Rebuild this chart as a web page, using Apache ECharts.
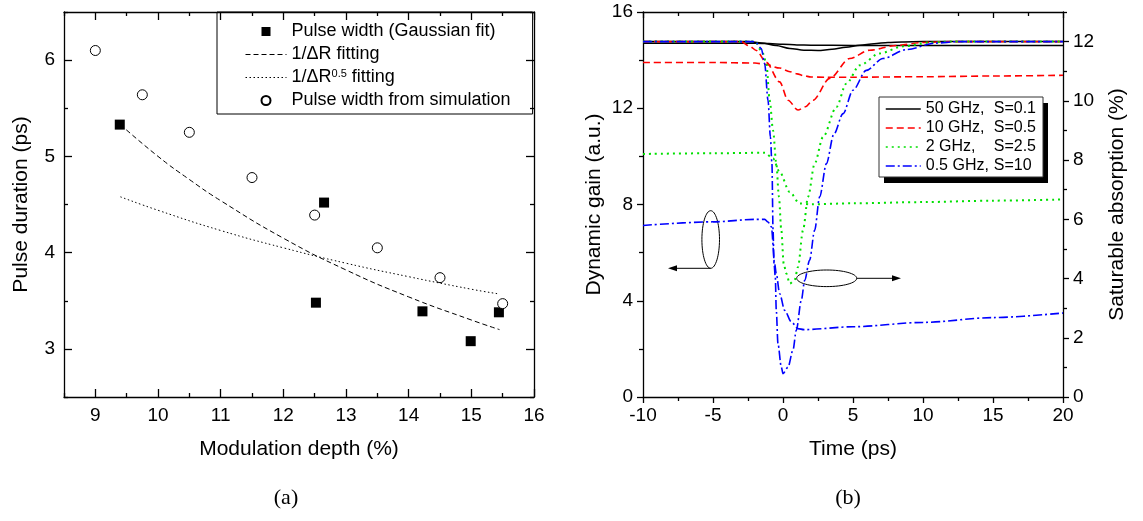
<!DOCTYPE html>
<html>
<head>
<meta charset="utf-8">
<title>Pulse duration and dynamic gain</title>
<script src="https://cdn.jsdelivr.net/npm/echarts@6.0.0/dist/echarts.min.js"></script>
<style>
  html, body { margin: 0; padding: 0; background: #fff; }
  #chart { width: 1143px; height: 521px; }
</style>
</head>
<body>
<div id="chart"></div>
<script>
// ---------- (a) pulse duration vs modulation depth ----------
const gaussFit = [[9.39, 5.33], [12.52, 3.48], [12.65, 4.52], [14.22, 3.39], [14.99, 3.08], [15.44, 3.38]]
const simWidth = [[9.0, 6.10], [9.75, 5.64], [10.5, 5.25], [11.5, 4.78], [12.5, 4.39], [13.5, 4.05], [14.5, 3.74], [15.5, 3.47]]
const fitInvR = [[9.4, 5.33], [10, 5.0], [10.5, 4.76], [11, 4.54], [12, 4.15], [13, 3.82], [14, 3.54], [15, 3.30], [15.45, 3.20]]
const fitInvSqrtR = [[9.4, 4.58], [10, 4.44], [11, 4.23], [12, 4.05], [13, 3.89], [14, 3.75], [15, 3.62], [15.45, 3.57]]

// ---------- (b) dynamic gain (left axis) / saturable absorption (right axis) ----------
const gain50 = [[-10, 14.7], [-2, 14.7], [-1, 14.69], [0, 14.66], [1, 14.63], [2, 14.62], [5, 14.61], [10, 14.61], [20, 14.61]]
const abs50 = [[-10, 12], [-2.5, 12], [-1.5, 11.95], [-0.5, 11.87], [0.5, 11.77], [1.5, 11.71], [2.5, 11.7], [3.5, 11.74],
  [4.5, 11.81], [5.5, 11.88], [6.5, 11.93], [7.5, 11.97], [8.5, 11.99], [10, 12], [20, 12]]
const gain10 = [[-10, 13.9], [-5, 13.9], [-2, 13.88], [-1.2, 13.82], [-0.24, 13.67], [0.5, 13.52], [1, 13.43], [1.5, 13.35],
  [2, 13.3], [3, 13.29], [5, 13.29], [10, 13.31], [15, 13.34], [20, 13.37]]
const abs10 = [[-10, 12], [-3, 12], [-2.4, 11.85], [-1.9, 11.7], [-1.2, 11.3], [-0.24, 10.64], [0.36, 10.02], [1.07, 9.69],
  [1.6, 9.8], [2.14, 10.02], [3.34, 10.76], [4.76, 11.43], [6.19, 11.71], [8.1, 11.87], [10, 11.97], [12, 12], [20, 12]]
const gain2 = [[-10, 10.1], [-5, 10.13], [-1.3, 10.15], [-0.71, 9.91], [-0.24, 9.35], [0.48, 8.52], [1.19, 8.04], [2, 8.01],
  [5, 8.05], [10, 8.1], [15, 8.16], [20, 8.21]]
const abs2 = [[-10, 12], [-2, 12], [-1.43, 11.6], [-1.19, 11.26], [-0.95, 10.02], [-0.71, 9.0], [-0.48, 7.88], [-0.29, 6.76],
  [-0.12, 5.63], [0.05, 4.5], [0.24, 4.17], [0.48, 3.83], [0.83, 3.94], [1.07, 4.39], [1.43, 5.63], [1.79, 6.76], [2.26, 7.88],
  [2.86, 8.78], [3.81, 9.79], [4.52, 10.58], [5.48, 11.2], [6.9, 11.6], [8.57, 11.84], [10.5, 11.97], [12, 12], [20, 12]]
const gain05 = [[-10, 7.13], [-5, 7.28], [-2, 7.38], [-1.3, 7.38], [-1.07, 7.27], [-0.83, 7.07], [-0.6, 5.54], [-0.48, 5.13],
  [-0.24, 4.3], [0.12, 3.6], [0.6, 3.12], [1.07, 2.84], [1.5, 2.8], [5, 2.92], [10, 3.1], [15, 3.3], [20, 3.49]]
const abs05 = [[-10, 12], [-2, 12], [-1.55, 11.77], [-1.31, 11.26], [-1.07, 10.02], [-0.9, 8.78], [-0.79, 7.88], [-0.71, 5.63],
  [-0.64, 4.5], [-0.55, 4.05], [-0.48, 2.93], [-0.36, 1.8], [-0.12, 1.01], [0, 0.79], [0.36, 1.01], [0.71, 1.58], [0.95, 2.25],
  [1.31, 3.27], [1.55, 3.94], [1.9, 4.62], [2.26, 5.63], [2.62, 6.76], [3.1, 7.88], [3.63, 8.87], [4.29, 9.57], [5.0, 10.36],
  [5.95, 11.03], [7.14, 11.43], [8.81, 11.73], [10.9, 11.95], [12.5, 12], [20, 12]]

// tick values
const aXMajor = [9, 10, 11, 12, 13, 14, 15, 16]
const aXMinor = [8.5, 9.5, 10.5, 11.5, 12.5, 13.5, 14.5, 15.5]
const aYMajor = [3, 4, 5, 6]
const aYMinor = [2.5, 3.5, 4.5, 5.5, 6.5]
const bRightMajor = [0, 2, 4, 6, 8, 10, 12]
const bRightMinor = [1, 3, 5, 7, 9, 11, 13]

const FONT = 'Liberation Sans'
const BLACK = '#000'

// one value axis; ticks either from interval or from customValues
function axis(o) {
  return {
    type: 'value',
    gridIndex: o.grid,
    position: o.pos,
    min: o.min,
    max: o.max,
    interval: o.interval,
    axisLine: { show: !!o.line, onZero: false, lineStyle: { color: BLACK, width: 1.3 } },
    axisTick: { show: true, inside: !!o.inside, length: o.len, customValues: o.ticks, lineStyle: { color: BLACK, width: 1.3 } },
    minorTick: { show: !!o.minor, splitNumber: 2, length: o.minorLen, lineStyle: { color: BLACK, width: 1.3 } },
    axisLabel: {
      show: !!o.labels,
      customValues: Array.isArray(o.labels) ? o.labels : undefined,
      margin: o.margin,
      color: BLACK,
      fontFamily: FONT,
      fontSize: 19
    },
    splitLine: { show: false },
    name: o.name,
    nameLocation: 'middle',
    nameGap: o.nameGap,
    nameRotate: o.nameRotate,
    nameTextStyle: { color: BLACK, fontFamily: FONT, fontSize: 21 }
  }
}

function curve(name, data, xi, yi, color, type, width) {
  return {
    name: name,
    type: 'line',
    data: data,
    xAxisIndex: xi,
    yAxisIndex: yi,
    symbol: 'none',
    showSymbol: false,
    smooth: 0.3,
    smoothMonotone: 'x',
    lineStyle: { color: color, type: type, width: width },
    itemStyle: { color: color },
    z: 3
  }
}

const N50 = '50 GHz, S=0.1'
const N10 = '10 GHz, S=0.5'
const N2 = '2 GHz, S=2.5'
const N05 = '0.5 GHz, S=10'
const RED = '#ff0000'
const GREEN = '#00e000'
const BLUE = '#0000ff'
const DASH = [7, 4]
const DOT = [2, 4]
const DASHDOT = [9, 3, 2, 3]
const noSymbol = { opacity: 0 } // hide the dot ECharts puts on line legend icons

const chart = echarts.init(document.getElementById('chart'))
const option = {
  animation: false,
  backgroundColor: '#fff',
  grid: [
    { left: 64, top: 12, width: 470, height: 385 },
    { left: 643, top: 12, width: 420, height: 385 }
  ],
  xAxis: [
    axis({ grid: 0, pos: 'bottom', min: 8.5, max: 16, line: true, inside: true, len: 8, ticks: aXMajor, labels: aXMajor, margin: 9,
      name: 'Modulation depth (%)', nameGap: 42 }),
    axis({ grid: 0, pos: 'bottom', min: 8.5, max: 16, inside: true, len: 4, ticks: aXMinor }),
    axis({ grid: 0, pos: 'top', min: 8.5, max: 16, line: true, inside: true, len: 8, ticks: aXMajor }),
    axis({ grid: 0, pos: 'top', min: 8.5, max: 16, inside: true, len: 4, ticks: aXMinor }),
    axis({ grid: 1, pos: 'bottom', min: -10, max: 20, interval: 5, line: true, len: 6, minor: true, minorLen: 4, labels: true, margin: 9,
      name: 'Time (ps)', nameGap: 42 }),
    axis({ grid: 1, pos: 'top', min: -10, max: 20, interval: 5, line: true, inside: true, len: 6, minor: true, minorLen: 4 })
  ],
  yAxis: [
    axis({ grid: 0, pos: 'left', min: 2.5, max: 6.5, line: true, inside: true, len: 8, ticks: aYMajor, labels: aYMajor, margin: 9,
      name: 'Pulse duration (ps)', nameGap: 32, nameRotate: 90 }),
    axis({ grid: 0, pos: 'left', min: 2.5, max: 6.5, inside: true, len: 4, ticks: aYMinor }),
    axis({ grid: 0, pos: 'right', min: 2.5, max: 6.5, line: true, inside: true, len: 8, ticks: aYMajor }),
    axis({ grid: 0, pos: 'right', min: 2.5, max: 6.5, inside: true, len: 4, ticks: aYMinor }),
    axis({ grid: 1, pos: 'left', min: 0, max: 16, interval: 4, line: true, len: 6, minor: true, minorLen: 4, labels: true, margin: 10,
      name: 'Dynamic gain (a.u.)', nameGap: 38, nameRotate: 90 }),
    axis({ grid: 1, pos: 'right', min: 0, max: 13, line: true, len: 6, ticks: bRightMajor, labels: bRightMajor, margin: 10,
      name: 'Saturable absorption (%)', nameGap: 44, nameRotate: 90 }),
    axis({ grid: 1, pos: 'right', min: 0, max: 13, len: 4, ticks: bRightMinor })
  ],
  legend: [
    {
      data: [
        { name: 'Pulse width (Gaussian fit)', icon: 'path://M0,0L10,0L10,10L0,10Z' },
        { name: '1/ΔR fitting', itemStyle: noSymbol },
        { name: '1/ΔR^0.5 fitting', itemStyle: noSymbol },
        'Pulse width from simulation'
      ],
      orient: 'vertical',
      left: 217,
      top: 12,
      padding: [10, 22, 4, 28],
      borderColor: BLACK,
      borderWidth: 1,
      itemWidth: 41,
      itemHeight: 9,
      itemGap: 4,
      symbolKeepAspect: true,
      selectedMode: false,
      lineStyle: { width: 1 },
      formatter: name => name.replace('^0.5', '{sup|0.5}'),
      textStyle: {
        color: BLACK, fontFamily: FONT, fontSize: 18, lineHeight: 19,
        rich: { sup: { fontFamily: FONT, fontSize: 11, lineHeight: 19, verticalAlign: 'top', color: BLACK } }
      }
    },
    {
      data: [N50, N10, N2, N05],
      orient: 'vertical',
      left: 879,
      top: 97,
      z: 5,
      padding: [3, 7, 2, 6],
      backgroundColor: '#fff',
      borderColor: '#333',
      borderWidth: 1,
      itemWidth: 35,
      itemHeight: 10,
      itemGap: 1,
      itemStyle: noSymbol,
      lineStyle: { width: 1.5 },
      selectedMode: false,
      formatter: name => {
        const i = name.indexOf(', ')
        return '{a|' + name.slice(0, i + 1) + '}{b|' + name.slice(i + 2) + '}'
      },
      textStyle: {
        color: BLACK, fontFamily: FONT, fontSize: 16, lineHeight: 18,
        rich: {
          a: { fontFamily: FONT, fontSize: 16, width: 68, color: BLACK },
          b: { fontFamily: FONT, fontSize: 16, color: BLACK }
        }
      }
    }
  ],
  series: [
    {
      name: 'Pulse width (Gaussian fit)', type: 'scatter', data: gaussFit, xAxisIndex: 0, yAxisIndex: 0,
      symbol: 'rect', symbolSize: 10, itemStyle: { color: BLACK, opacity: 1 }, z: 4
    },
    {
      name: '1/ΔR fitting', type: 'line', data: fitInvR, xAxisIndex: 0, yAxisIndex: 0, symbol: 'none', showSymbol: false,
      smooth: true, lineStyle: { color: BLACK, width: 1, type: [5, 3] }, itemStyle: { color: BLACK }
    },
    {
      name: '1/ΔR^0.5 fitting', type: 'line', data: fitInvSqrtR, xAxisIndex: 0, yAxisIndex: 0, symbol: 'none', showSymbol: false,
      smooth: true, lineStyle: { color: BLACK, width: 1, type: [1.5, 2.5] }, itemStyle: { color: BLACK }
    },
    {
      name: 'Pulse width from simulation', type: 'scatter', data: simWidth, xAxisIndex: 0, yAxisIndex: 0,
      symbol: 'circle', symbolSize: 10, itemStyle: { color: '#fff', borderColor: BLACK, borderWidth: 1, opacity: 1 }, z: 4
    },
    curve(N50, gain50, 4, 4, BLACK, 'solid', 1.5),
    curve(N50, abs50, 4, 5, BLACK, 'solid', 1.5),
    curve(N10, gain10, 4, 4, RED, DASH, 1.6),
    curve(N10, abs10, 4, 5, RED, DASH, 1.6),
    curve(N2, gain2, 4, 4, GREEN, DOT, 2),
    curve(N2, abs2, 4, 5, GREEN, DOT, 2),
    curve(N05, gain05, 4, 4, BLUE, DASHDOT, 1.6),
    curve(N05, abs05, 4, 5, BLUE, DASHDOT, 1.6)
  ],
  graphic: [
    { type: 'text', x: 286, y: 498, style: { text: '(a)', font: '22px "Liberation Serif"', fill: BLACK, align: 'center', verticalAlign: 'middle' } },
    { type: 'text', x: 848, y: 498, style: { text: '(b)', font: '22px "Liberation Serif"', fill: BLACK, align: 'center', verticalAlign: 'middle' } },
    // drop shadow behind the (b) legend box
    { type: 'rect', z: 4, shape: { x: 884, y: 103, width: 164, height: 80 }, style: { fill: BLACK } },
    // left-pointing marker: these curves belong to the gain axis
    { type: 'ellipse', shape: { cx: 710.7, cy: 239.5, rx: 8.8, ry: 28.8 }, style: { fill: 'none', stroke: BLACK, lineWidth: 1 } },
    { type: 'line', shape: { x1: 710.7, y1: 268.3, x2: 676, y2: 268.3 }, style: { stroke: BLACK, lineWidth: 1 } },
    { type: 'polygon', shape: { points: [[668, 268.3], [677, 265.3], [677, 271.3]] }, style: { fill: BLACK } },
    // right-pointing marker: these curves belong to the absorption axis
    { type: 'ellipse', shape: { cx: 826.7, cy: 278.3, rx: 30, ry: 8.3 }, style: { fill: 'none', stroke: BLACK, lineWidth: 1 } },
    { type: 'line', shape: { x1: 856.7, y1: 278.3, x2: 893, y2: 278.3 }, style: { stroke: BLACK, lineWidth: 1 } },
    { type: 'polygon', shape: { points: [[901, 278.3], [892, 275.3], [892, 281.3]] }, style: { fill: BLACK } }
  ]
}
chart.setOption(option)
</script>
</body>
</html>
